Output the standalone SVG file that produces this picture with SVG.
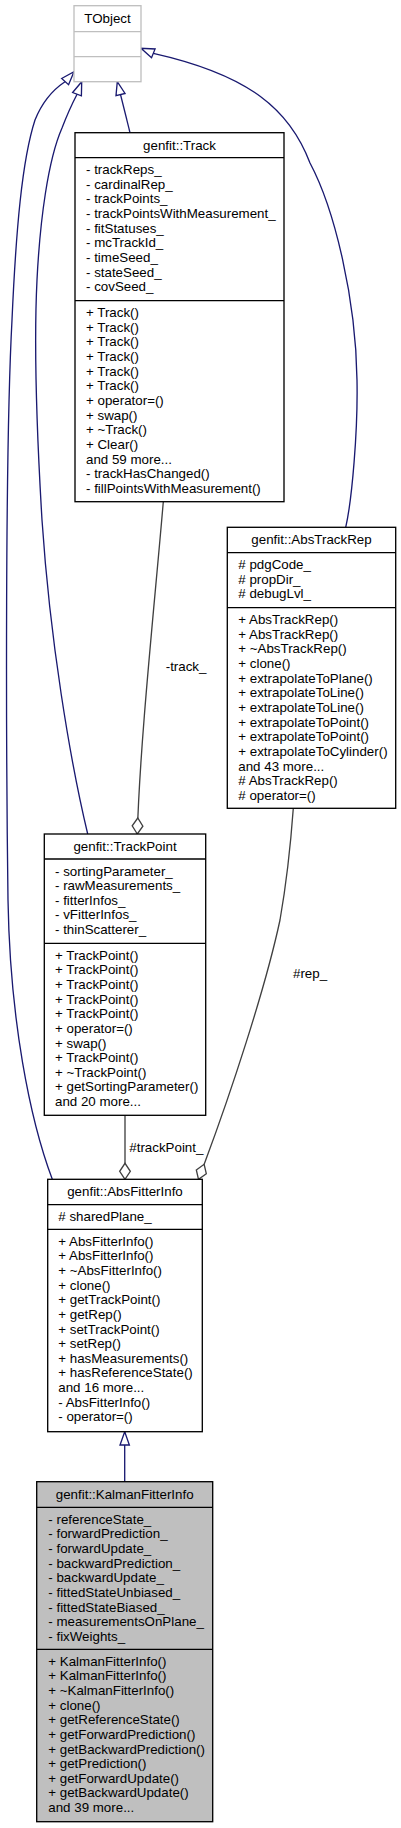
<svg xmlns="http://www.w3.org/2000/svg" width="401" height="1828" viewBox="0 0 401 1828">
<style>
text{font-family:"Liberation Sans",Arial,Helvetica,sans-serif;font-size:13.33px;fill:#000}
.t{text-anchor:middle}
.box{fill:#fff;stroke:#000;stroke-width:1.33}
.gbox{fill:#fff;stroke:#bfbfbf;stroke-width:1.33}
.hbox{fill:#bfbfbf;stroke:#000;stroke-width:1.33}
.sep{stroke:#000;stroke-width:1.33}
.gsep{stroke:#bfbfbf;stroke-width:1.33}
.inh{fill:none;stroke:#191970;stroke-width:1.33;marker-end:url(#tri)}
.use{fill:none;stroke:#404040;stroke-width:1.33;marker-start:url(#dia)}
</style>
<defs>
<marker id="tri" markerUnits="userSpaceOnUse" markerWidth="16" markerHeight="12" refX="14.3" refY="6" orient="auto" overflow="visible">
<path d="M1,1.33 L14.3,6 L1,10.67 z" fill="#fff" stroke="#191970" stroke-width="1.33"/>
</marker>
<marker id="dia" markerUnits="userSpaceOnUse" markerWidth="18" markerHeight="12" refX="1" refY="6" orient="auto" overflow="visible">
<path d="M1,6 L9,0.67 L17,6 L9,11.33 z" fill="#fff" stroke="#404040" stroke-width="1.33"/>
</marker>
</defs>
<rect width="401" height="1828" fill="#fff"/>

<g id="connectors">
<path class="inh" d="M52.3,1179.3 C30,1120 10,1020 8,900 C6,750 5,450 12,320 C16,230 22,160 35,120 C43,100 54,89 65,81.7 L74,71.7"/>
<path class="inh" d="M87.7,834 C70,760 50,640 42,520 C36,420 34,340 37,280 C40,220 48,160 62,128 C67,115 72,104 76.7,95 L81.7,81.7"/>
<path class="inh" d="M130,132.7 L117.3,81.7"/>
<path class="inh" d="M345.7,527.3 C352,500 358,430 357,380 C356,300 335,210 310,163 C290,110 250,75 153.3,53.3 L141,48.3"/>
<path class="inh" d="M124.7,1481.7 L124.7,1431.7"/>
<path class="use" d="M137.3,834 C140,740 155,600 163.3,501.7"/>
<path class="use" d="M125,1179.3 L125,1115.3"/>
<path class="use" d="M198.5,1179.3 L205,1162 C230,1095 265,990 280,920 C287,880 291,840 293.3,808.3"/>
<text x="165.7" y="671">-track_</text>
<text x="293" y="978">#rep_</text>
<text x="129.3" y="1152">#trackPoint_</text>
</g>

<g id="TObject">
<rect class="gbox" x="74" y="5.7" width="67" height="76"/>
<line class="gsep" x1="74" y1="31.7" x2="141" y2="31.7"/>
<line class="gsep" x1="74" y1="56.7" x2="141" y2="56.7"/>
<text class="t" x="107.5" y="22.9">TObject</text>
</g>

<g id="Track">
<rect class="box" x="75" y="132.7" width="209" height="369"/>
<line class="sep" x1="75" y1="157.7" x2="284" y2="157.7"/>
<line class="sep" x1="75" y1="300.7" x2="284" y2="300.7"/>
<text class="t" x="179.5" y="149.5">genfit::Track</text>
<text x="86" y="174.2"><tspan x="86">- trackReps_</tspan><tspan x="86" dy="14.63">- cardinalRep_</tspan><tspan x="86" dy="14.63">- trackPoints_</tspan><tspan x="86" dy="14.63">- trackPointsWithMeasurement_</tspan><tspan x="86" dy="14.63">- fitStatuses_</tspan><tspan x="86" dy="14.63">- mcTrackId_</tspan><tspan x="86" dy="14.63">- timeSeed_</tspan><tspan x="86" dy="14.63">- stateSeed_</tspan><tspan x="86" dy="14.63">- covSeed_</tspan></text>
<text x="86" y="317.2"><tspan x="86">+ Track()</tspan><tspan x="86" dy="14.63">+ Track()</tspan><tspan x="86" dy="14.63">+ Track()</tspan><tspan x="86" dy="14.63">+ Track()</tspan><tspan x="86" dy="14.63">+ Track()</tspan><tspan x="86" dy="14.63">+ Track()</tspan><tspan x="86" dy="14.63">+ operator=()</tspan><tspan x="86" dy="14.63">+ swap()</tspan><tspan x="86" dy="14.63">+ ~Track()</tspan><tspan x="86" dy="14.63">+ Clear()</tspan><tspan x="86" dy="14.63">and 59 more...</tspan><tspan x="86" dy="14.63">- trackHasChanged()</tspan><tspan x="86" dy="14.63">- fillPointsWithMeasurement()</tspan></text>
</g>

<g id="AbsTrackRep">
<rect class="box" x="227.3" y="527.3" width="168.4" height="281"/>
<line class="sep" x1="227.3" y1="552.7" x2="395.7" y2="552.7"/>
<line class="sep" x1="227.3" y1="607.7" x2="395.7" y2="607.7"/>
<text class="t" x="311.5" y="544">genfit::AbsTrackRep</text>
<text x="238.3" y="569.2"><tspan x="238.3"># pdgCode_</tspan><tspan x="238.3" dy="14.63"># propDir_</tspan><tspan x="238.3" dy="14.63"># debugLvl_</tspan></text>
<text x="238.3" y="624.2"><tspan x="238.3">+ AbsTrackRep()</tspan><tspan x="238.3" dy="14.63">+ AbsTrackRep()</tspan><tspan x="238.3" dy="14.63">+ ~AbsTrackRep()</tspan><tspan x="238.3" dy="14.63">+ clone()</tspan><tspan x="238.3" dy="14.63">+ extrapolateToPlane()</tspan><tspan x="238.3" dy="14.63">+ extrapolateToLine()</tspan><tspan x="238.3" dy="14.63">+ extrapolateToLine()</tspan><tspan x="238.3" dy="14.63">+ extrapolateToPoint()</tspan><tspan x="238.3" dy="14.63">+ extrapolateToPoint()</tspan><tspan x="238.3" dy="14.63">+ extrapolateToCylinder()</tspan><tspan x="238.3" dy="14.63">and 43 more...</tspan><tspan x="238.3" dy="14.63"># AbsTrackRep()</tspan><tspan x="238.3" dy="14.63"># operator=()</tspan></text>
</g>

<g id="TrackPoint">
<rect class="box" x="44.3" y="834" width="161.4" height="281.3"/>
<line class="sep" x1="44.3" y1="859" x2="205.7" y2="859"/>
<line class="sep" x1="44.3" y1="943.3" x2="205.7" y2="943.3"/>
<text class="t" x="125" y="850.5">genfit::TrackPoint</text>
<text x="55" y="875.5"><tspan x="55">- sortingParameter_</tspan><tspan x="55" dy="14.63">- rawMeasurements_</tspan><tspan x="55" dy="14.63">- fitterInfos_</tspan><tspan x="55" dy="14.63">- vFitterInfos_</tspan><tspan x="55" dy="14.63">- thinScatterer_</tspan></text>
<text x="55" y="959.8"><tspan x="55">+ TrackPoint()</tspan><tspan x="55" dy="14.63">+ TrackPoint()</tspan><tspan x="55" dy="14.63">+ TrackPoint()</tspan><tspan x="55" dy="14.63">+ TrackPoint()</tspan><tspan x="55" dy="14.63">+ TrackPoint()</tspan><tspan x="55" dy="14.63">+ operator=()</tspan><tspan x="55" dy="14.63">+ swap()</tspan><tspan x="55" dy="14.63">+ TrackPoint()</tspan><tspan x="55" dy="14.63">+ ~TrackPoint()</tspan><tspan x="55" dy="14.63">+ getSortingParameter()</tspan><tspan x="55" dy="14.63">and 20 more...</tspan></text>
</g>

<g id="AbsFitterInfo">
<rect class="box" x="47.7" y="1179.3" width="154.6" height="252.4"/>
<line class="sep" x1="47.7" y1="1204.7" x2="202.3" y2="1204.7"/>
<line class="sep" x1="47.7" y1="1229.3" x2="202.3" y2="1229.3"/>
<text class="t" x="125" y="1196">genfit::AbsFitterInfo</text>
<text x="58.3" y="1221.2"># sharedPlane_</text>
<text x="58.3" y="1245.8"><tspan x="58.3">+ AbsFitterInfo()</tspan><tspan x="58.3" dy="14.63">+ AbsFitterInfo()</tspan><tspan x="58.3" dy="14.63">+ ~AbsFitterInfo()</tspan><tspan x="58.3" dy="14.63">+ clone()</tspan><tspan x="58.3" dy="14.63">+ getTrackPoint()</tspan><tspan x="58.3" dy="14.63">+ getRep()</tspan><tspan x="58.3" dy="14.63">+ setTrackPoint()</tspan><tspan x="58.3" dy="14.63">+ setRep()</tspan><tspan x="58.3" dy="14.63">+ hasMeasurements()</tspan><tspan x="58.3" dy="14.63">+ hasReferenceState()</tspan><tspan x="58.3" dy="14.63">and 16 more...</tspan><tspan x="58.3" dy="14.63">- AbsFitterInfo()</tspan><tspan x="58.3" dy="14.63">- operator=()</tspan></text>
</g>

<g id="KalmanFitterInfo">
<rect class="hbox" x="36.7" y="1481.7" width="176" height="340"/>
<line class="sep" x1="36.7" y1="1507.3" x2="212.7" y2="1507.3"/>
<line class="sep" x1="36.7" y1="1649.3" x2="212.7" y2="1649.3"/>
<text class="t" x="124.7" y="1498.5">genfit::KalmanFitterInfo</text>
<text x="48.3" y="1523.8"><tspan x="48.3">- referenceState_</tspan><tspan x="48.3" dy="14.63">- forwardPrediction_</tspan><tspan x="48.3" dy="14.63">- forwardUpdate_</tspan><tspan x="48.3" dy="14.63">- backwardPrediction_</tspan><tspan x="48.3" dy="14.63">- backwardUpdate_</tspan><tspan x="48.3" dy="14.63">- fittedStateUnbiased_</tspan><tspan x="48.3" dy="14.63">- fittedStateBiased_</tspan><tspan x="48.3" dy="14.63">- measurementsOnPlane_</tspan><tspan x="48.3" dy="14.63">- fixWeights_</tspan></text>
<text x="48.3" y="1665.8"><tspan x="48.3">+ KalmanFitterInfo()</tspan><tspan x="48.3" dy="14.63">+ KalmanFitterInfo()</tspan><tspan x="48.3" dy="14.63">+ ~KalmanFitterInfo()</tspan><tspan x="48.3" dy="14.63">+ clone()</tspan><tspan x="48.3" dy="14.63">+ getReferenceState()</tspan><tspan x="48.3" dy="14.63">+ getForwardPrediction()</tspan><tspan x="48.3" dy="14.63">+ getBackwardPrediction()</tspan><tspan x="48.3" dy="14.63">+ getPrediction()</tspan><tspan x="48.3" dy="14.63">+ getForwardUpdate()</tspan><tspan x="48.3" dy="14.63">+ getBackwardUpdate()</tspan><tspan x="48.3" dy="14.63">and 39 more...</tspan></text>
</g>
</svg>
